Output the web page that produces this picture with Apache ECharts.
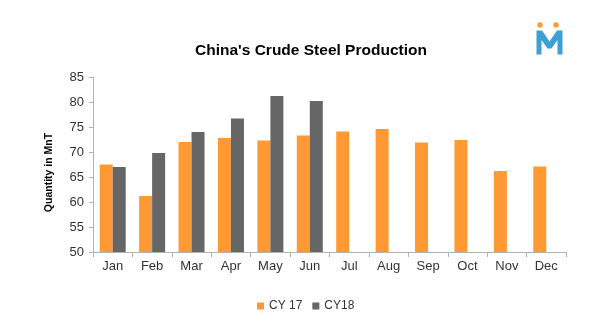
<!DOCTYPE html>
<html><head><meta charset="utf-8">
<script src="https://cdn.jsdelivr.net/npm/echarts@6/dist/echarts.min.js"></script>
<style>html,body{margin:0;padding:0;background:#fff}#c{width:607px;height:325px}</style>
</head><body><div id="c"></div>
<script>
var months = ['Jan','Feb','Mar','Apr','May','Jun','Jul','Aug','Sep','Oct','Nov','Dec'];
var cy17 = [67.5, 61.2, 72.0, 72.8, 72.3, 73.3, 74.1, 74.6, 71.9, 72.4, 66.2, 67.1];
var cy18 = [67.0, 69.8, 74.0, 76.7, 81.2, 80.2, null, null, null, null, null, null];
var yTicks = [50, 55, 60, 65, 70, 75, 80, 85];
var font = 'Liberation Sans, Arial, sans-serif';
var chart = echarts.init(document.getElementById('c'));
chart.setOption({
  animation: false,
  title: {text: "China's Crude Steel Production", left: 195, top: 43, padding: 0,
    textStyle: {fontFamily: font, fontSize: 15.5, fontWeight: 'bold', color: '#000'}},
  legend: {top: 300, left: 257, padding: 0, itemWidth: 7, itemHeight: 7, itemGap: 10,
    icon: 'rect', textStyle: {fontFamily: font, fontSize: 12, color: '#333'},
    data: ['CY 17', 'CY18']},
  grid: {left: 93, right: 41, top: 77, bottom: 73},
  xAxis: {type: 'category', data: months,
    axisLine: {lineStyle: {color: '#b3b3b3'}},
    axisTick: {show: true, length: 5, lineStyle: {color: '#b3b3b3'}},
    axisLabel: {fontFamily: font, fontSize: 13, color: '#333', margin: 8}},
  yAxis: {type: 'value', min: yTicks[0], max: yTicks[yTicks.length-1], interval: 5,
    axisLine: {show: true, lineStyle: {color: '#b3b3b3'}},
    axisTick: {show: true, length: 4, lineStyle: {color: '#b3b3b3'}},
    splitLine: {show: false},
    axisLabel: {fontFamily: font, fontSize: 13, color: '#333', margin: 9}},
  series: [
    {name: 'CY 17', type: 'bar', data: cy17, barWidth: 13, barGap: '0%', itemStyle: {color: '#ff9933'}},
    {name: 'CY18', type: 'bar', data: cy18, barWidth: 13, barGap: '0%', itemStyle: {color: '#666666'}}
  ],
  graphic: [
    {type: 'text', x: 49.5, y: 172.5, rotation: Math.PI / 2,
      style: {text: 'Quantity in MnT', font: 'bold 10.5px Liberation Sans, Arial, sans-serif',
        fill: '#000', align: 'center', verticalAlign: 'middle'}},
    {type: 'polygon', shape: {points: [[536.5,54.5],[536.5,30.5],[542,30.5],[549.5,41.5],[557,30.5],[562.5,30.5],[562.5,54.5],[557.5,54.5],[557.5,40],[551.5,48.5],[547.5,48.5],[541.5,40],[541.5,54.5]]},
      style: {fill: '#3d9fd3'}},
    {type: 'circle', shape: {cx: 540, cy: 25, r: 2.8}, style: {fill: '#f5a033'}},
    {type: 'circle', shape: {cx: 556, cy: 25, r: 2.8}, style: {fill: '#f5a033'}}
  ]
});
</script></body></html>
